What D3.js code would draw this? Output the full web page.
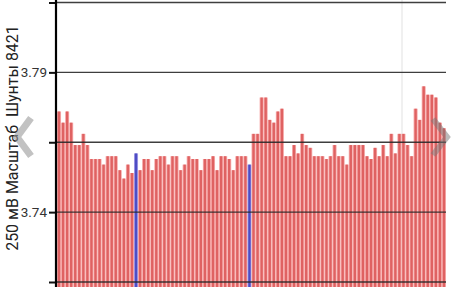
<!DOCTYPE html>
<html lang="ru">
<head>
<meta charset="UTF-8">
<title>Шунты 8421</title>
<script src="https://d3js.org/d3.v7.min.js"></script>
<style>
  body { margin: 0; background: #fff; }
  svg { display: block; font-family: Roboto, "Noto Sans", sans-serif; }
</style>
</head>
<body>
<svg id="main" width="456" height="287"></svg>
<script>
    // shunt voltages, one per cell
    let cells = d3.range(1, 97);
    let volts = [3.776, 3.772, 3.776, 3.772, 3.764, 3.764, 3.768, 3.764, 3.759, 3.759,
        3.759, 3.757, 3.760, 3.760, 3.760, 3.755, 3.752, 3.757, 3.754, 3.761,
        3.755, 3.759, 3.759, 3.755, 3.759, 3.760, 3.760, 3.757, 3.760, 3.760,
        3.755, 3.757, 3.760, 3.759, 3.759, 3.755, 3.759, 3.759, 3.760, 3.755,
        3.760, 3.760, 3.759, 3.755, 3.760, 3.760, 3.760, 3.757, 3.768, 3.768,
        3.781, 3.781, 3.773, 3.772, 3.776, 3.777, 3.760, 3.760, 3.764, 3.761,
        3.768, 3.764, 3.763, 3.760, 3.760, 3.760, 3.759, 3.760, 3.764, 3.760,
        3.760, 3.757, 3.764, 3.764, 3.764, 3.764, 3.760, 3.759, 3.763, 3.760,
        3.764, 3.760, 3.768, 3.761, 3.768, 3.768, 3.764, 3.760, 3.777, 3.773,
        3.785, 3.782, 3.782, 3.781, 3.772, 3.770];
    let marked = [20, 48]; // highlighted cells
    let yTicks = [3.715, 3.74, 3.765, 3.79, 3.815];
    let yLabels = ['', '3.74', '', '3.79', ''];
    let title = '250 мВ Масштаб\u00a0\u00a0Шунты 8421';

    let svg = d3.select('#main');
    let W = 456, H = 287;
    let left = 56, right = 446;

    let y = d3.scaleLinear().domain([3.715, 3.815]).range([282, 2.5]);
    let x = d3.scaleBand().domain(cells).range([left + 1, right])
        .paddingInner(0.42).paddingOuter(0.21);
    let step = x.step();

    // faint hover line
    svg.append('line')
        .attr('x1', 402).attr('x2', 402).attr('y1', 0).attr('y2', H)
        .attr('stroke', '#f0f0f0').attr('stroke-width', 2);

    // bars
    let bars = svg.append('g').selectAll('g')
        .data(cells)
        .enter()
        .append('g');
    bars.append('rect')
        .attr('x', function(d){ return x(d) - step * 0.21; })
        .attr('width', step)
        .attr('y', function(d, i){ return y(volts[i]); })
        .attr('height', function(d, i){ return H - y(volts[i]); })
        .attr('fill', function(d){ return marked.includes(d) ? '#a8a0e8' : '#f7adad'; });
    bars.append('rect')
        .attr('x', function(d){ return x(d); })
        .attr('width', x.bandwidth())
        .attr('y', function(d, i){ return y(volts[i]); })
        .attr('height', function(d, i){ return H - y(volts[i]); })
        .attr('fill', function(d){ return marked.includes(d) ? '#4d4dc4' : '#df6262'; });

    // grid
    svg.append('g').selectAll('line')
        .data(yTicks)
        .enter()
        .append('line')
        .attr('x1', left).attr('x2', right)
        .attr('y1', function(d){ return y(d); })
        .attr('y2', function(d){ return y(d); })
        .attr('stroke', '#2a2a2a').attr('stroke-width', 1.3).attr('opacity', 0.9);

    // y axis
    let axis = d3.axisLeft(y).tickValues(yTicks)
        .tickSize(7).tickPadding(3)
        .tickFormat(function(d, i){ return yLabels[i]; });
    let ax = svg.append('g').attr('transform', 'translate(' + left + ',0)').call(axis);
    ax.select('.domain').remove();
    ax.selectAll('.tick line').attr('stroke', '#111').attr('stroke-width', 2);
    ax.selectAll('.tick text')
        .attr('x', -9)
        .attr('font-size', 13.5).attr('fill', '#333')
        .style('font-family', 'Roboto, sans-serif');
    svg.append('line')
        .attr('x1', left).attr('x2', left).attr('y1', 0).attr('y2', H)
        .attr('stroke', '#000').attr('stroke-width', 2.2);

    svg.append('text')
        .attr('transform', 'translate(18,138) rotate(-90)')
        .attr('text-anchor', 'middle')
        .attr('font-size', 16)
        .attr('fill', '#222')
        .text(title);

    // navigation chevrons
    svg.append('path')
        .attr('d', 'M31,118 L17,137 L31,156')
        .attr('fill', 'none').attr('stroke', '#999').attr('stroke-width', 7)
        .attr('opacity', 0.6);
    svg.append('path')
        .attr('d', 'M433,119 L447,137 L433,155')
        .attr('fill', 'none').attr('stroke', '#777').attr('stroke-width', 6)
        .attr('opacity', 0.5);
</script>
</body>
</html>
